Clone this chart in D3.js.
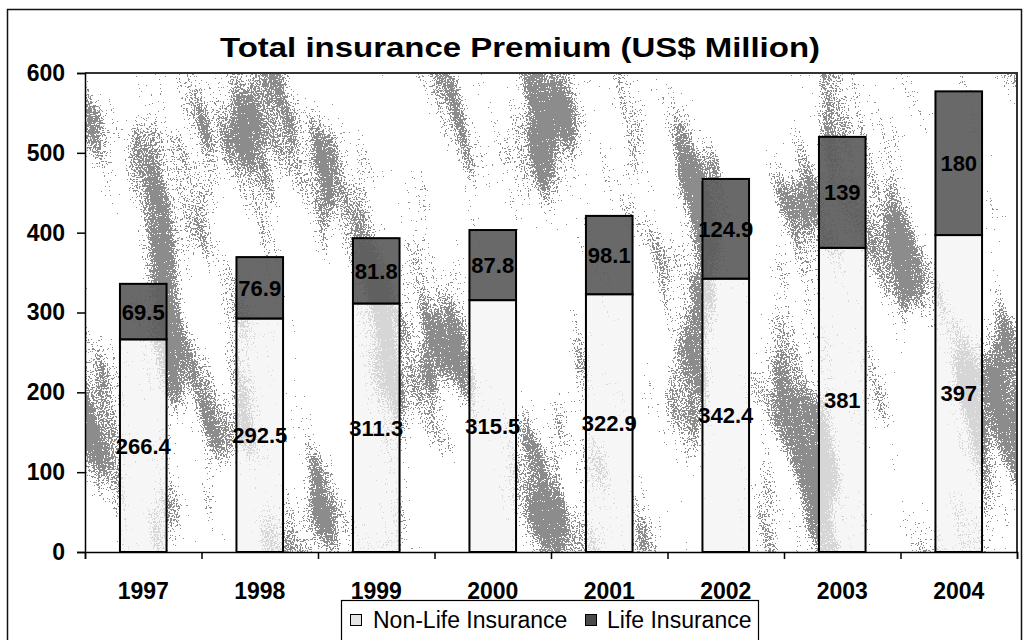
<!DOCTYPE html>
<html>
<head>
<meta charset="utf-8">
<script src="https://cdn.jsdelivr.net/npm/d3@7"></script>
<style>
  html, body { margin: 0; padding: 0; background: #fff; }
  svg { display: block; font-family: Arial, "Liberation Sans", sans-serif; }
</style>
</head>
<body>
<svg id="chart" width="1024" height="640"></svg>
<script>
// Premium by year, US$ million
const years = ["1997", "1998", "1999", "2000", "2001", "2002", "2003", "2004"];
const nonLife = [266.4, 292.5, 311.3, 315.5, 322.9, 342.4, 381, 397];
const life = [69.5, 76.9, 81.8, 87.8, 98.1, 124.9, 139, 180];
const yTicks = [0, 100, 200, 300, 400, 500, 600];
const seriesNames = ["Non-Life Insurance", "Life Insurance"];
const titleText = "Total insurance Premium (US$ Million)";

const svg = d3.select("#chart");
const plot = { left: 85, right: 1017, top: 73, bottom: 552 };

const x = d3.scaleBand().domain(years).range([plot.left, plot.right])
  .paddingInner(0.6).paddingOuter(0.3);
const xEdge = d3.scaleLinear().domain([0, years.length]).range([plot.left, plot.right]);
const y = d3.scaleLinear().domain([0, 600]).range([plot.bottom, plot.top]);

// Grainy streaked texture for the plot background
const defs = svg.append("defs");
const f = defs.append("filter").attr("id", "grain")
  .attr("x", 0).attr("y", 0).attr("width", 1).attr("height", 1)
  .attr("color-interpolation-filters", "sRGB");
f.append("feTurbulence").attr("type", "fractalNoise")
  .attr("baseFrequency", "0.02 0.005").attr("numOctaves", 3).attr("seed", 11).attr("result", "low");
// inverted streak tone: 1 - noise, opaque
f.append("feColorMatrix").attr("in", "low").attr("type", "matrix")
  .attr("values", "-1 0 0 0 1  -1 0 0 0 1  -1 0 0 0 1  0 0 0 0 1").attr("result", "lowG");
f.append("feTurbulence").attr("type", "fractalNoise")
  .attr("baseFrequency", "0.9").attr("numOctaves", 1).attr("seed", 3).attr("result", "hi");
f.append("feColorMatrix").attr("in", "hi").attr("type", "matrix")
  .attr("values", "1 0 0 0 0  1 0 0 0 0  1 0 0 0 0  0 0 0 0 1").attr("result", "hiG");
f.append("feComposite").attr("in", "lowG").attr("in2", "hiG").attr("operator", "arithmetic")
  .attr("k1", 0).attr("k2", 2.0).attr("k3", 1.8).attr("k4", -1.15).attr("result", "mix");
const ct = f.append("feComponentTransfer").attr("in", "mix");
["feFuncR", "feFuncG", "feFuncB"].forEach(fn =>
  ct.append(fn).attr("type", "discrete").attr("tableValues", "0.55 1"));
ct.append("feFuncA").attr("type", "linear").attr("slope", 0).attr("intercept", 1);

defs.append("clipPath").attr("id", "plotClip")
  .append("rect").attr("x", plot.left).attr("y", plot.top)
  .attr("width", plot.right - plot.left).attr("height", plot.bottom - plot.top);

// Outer chart frame
svg.append("rect").attr("x", 7.5).attr("y", 9.5).attr("width", 1014).attr("height", 650)
  .attr("fill", "#fff").attr("stroke", "#111").attr("stroke-width", 1.5);

// Plot area background
svg.append("g").attr("clip-path", "url(#plotClip)")
  .append("rect")
  .attr("x", plot.left - 200).attr("y", plot.top - 200)
  .attr("width", plot.right - plot.left + 400).attr("height", plot.bottom - plot.top + 400)
  .attr("transform", `rotate(-12 ${(plot.left + plot.right) / 2} ${(plot.top + plot.bottom) / 2})`)
  .attr("filter", "url(#grain)");

svg.append("path")
  .attr("d", `M${plot.left},${plot.top}H${plot.right}V${plot.bottom}`)
  .attr("fill", "none").attr("stroke", "#333").attr("stroke-width", 2);

// Stacked bars
const bars = svg.append("g");
years.forEach((yr, i) => {
  const bx = x(yr), bw = x.bandwidth();
  bars.append("rect").attr("x", bx).attr("width", bw)
    .attr("y", y(nonLife[i])).attr("height", y(0) - y(nonLife[i]))
    .attr("fill", "#f2f2f2").attr("fill-opacity", 0.72)
    .attr("stroke", "#000").attr("stroke-width", 2);
  bars.append("rect").attr("x", bx).attr("width", bw)
    .attr("y", y(nonLife[i] + life[i])).attr("height", y(nonLife[i]) - y(nonLife[i] + life[i]))
    .attr("fill", "#5c5c5c").attr("fill-opacity", 0.92)
    .attr("stroke", "#000").attr("stroke-width", 2);
});

// Value labels, centred in each segment
const labels = svg.append("g").attr("font-weight", "bold").attr("font-size", 22)
  .attr("text-anchor", "middle").attr("fill", "#000");
years.forEach((yr, i) => {
  const cx = x(yr) + x.bandwidth() / 2;
  labels.append("text").attr("x", cx).attr("y", y(nonLife[i] / 2))
    .attr("dy", "0.36em").text(nonLife[i]);
  labels.append("text").attr("x", cx).attr("y", y(nonLife[i] + life[i] / 2))
    .attr("dy", "0.36em").text(life[i]);
});

// Axes
const yAxis = svg.append("g").attr("transform", `translate(${plot.left},0)`)
  .call(d3.axisLeft(y).tickValues(yTicks).tickSize(8).tickPadding(12).tickFormat(d3.format("d")));
yAxis.selectAll("text").attr("font-size", 23).attr("font-weight", "bold").attr("fill", "#000")
  .attr("font-family", "Arial, 'Liberation Sans', sans-serif");
yAxis.selectAll("line, path").attr("stroke", "#000").attr("stroke-width", 1.5);

const xAxis = svg.append("g").attr("transform", `translate(0,${plot.bottom})`)
  .call(d3.axisBottom(xEdge).tickValues(d3.range(years.length + 1)).tickSize(7).tickFormat(""));
xAxis.selectAll("line, path").attr("stroke", "#000").attr("stroke-width", 1.5);

svg.append("g").attr("font-size", 23).attr("font-weight", "bold").attr("text-anchor", "middle")
  .selectAll("text").data(years).join("text")
  .attr("x", d => x(d) + x.bandwidth() / 2).attr("y", 599).text(d => d);

// Title
svg.append("text").attr("x", 520).attr("y", 57).attr("text-anchor", "middle")
  .attr("font-size", 27).attr("font-weight", "bold")
  .attr("textLength", 600).attr("lengthAdjust", "spacingAndGlyphs")
  .text(titleText);

// Legend
const lg = svg.append("g");
lg.append("rect").attr("x", 341.5).attr("y", 600.5).attr("width", 417).attr("height", 60)
  .attr("fill", "#fff").attr("stroke", "#000").attr("stroke-width", 1.2);
const items = [
  { name: seriesNames[0], fill: "#e4e4e4", sx: 350, tx: 373 },
  { name: seriesNames[1], fill: "#4a4a4a", sx: 585, tx: 607 }
];
items.forEach(it => {
  lg.append("rect").attr("x", it.sx + 0.5).attr("y", 614.5).attr("width", 11).attr("height", 11)
    .attr("fill", it.fill).attr("stroke", "#000").attr("stroke-width", 1);
  lg.append("text").attr("x", it.tx).attr("y", 628).attr("font-size", 23).attr("fill", "#000")
    .text(it.name);
});
</script>
</body>
</html>
